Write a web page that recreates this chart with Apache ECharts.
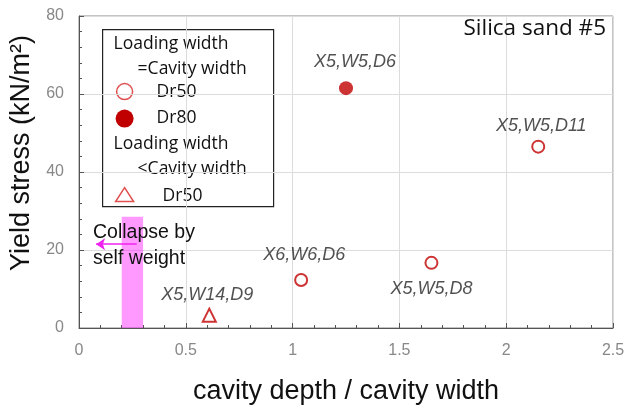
<!DOCTYPE html>
<html><head><meta charset="utf-8">
<script src="https://cdn.jsdelivr.net/npm/echarts@6/dist/echarts.min.js"></script>
<style>html,body{margin:0;padding:0;background:#fff}#c{width:627px;height:405px}</style>
</head><body><div id="c"></div>
<script>
// Data
const dr50Names = ['X6,W6,D6', 'X5,W5,D8', 'X5,W5,D11'];
const dr50X = [1.04, 1.65, 2.15];
const dr50Y = [12.3, 16.7, 46.5];
const dr80Names = ['X5,W5,D6'];
const dr80X = [1.25];
const dr80Y = [61.5];
const triNames = ['X5,W14,D9'];
const triX = [0.61];
const triY = [3.3];
const collapseBandX = [0.2, 0.3];
const collapseBandTop = 28.5;
const collapseArrowX = [0.27, 0.08];
const collapseArrowY = 21.5;
const xTicks = [0, 0.5, 1, 1.5, 2, 2.5];
const yTicks = [0, 20, 40, 60, 80];

const red = '#c00000';
const labelFont = {fontFamily: 'Liberation Sans', fontStyle: 'italic', fontSize: 18, color: '#262626'};
const pairs = (xs, ys, names) => xs.map((x, i) => ({value: [x, ys[i]], name: names[i]}));
const labelPos = {
  'X6,W6,D6': ['top', 9, [3, 0]],
  'X5,W5,D8': ['bottom', 10, [0, 0]],
  'X5,W5,D11': ['top', 5, [3, 0]],
  'X5,W5,D6': ['top', 10, [9, 0]],
  'X5,W14,D9': ['top', 4, [-2, 0]]
};
const withLabels = arr => arr.map(d => Object.assign(d, {label: Object.assign({
  show: true, position: labelPos[d.name][0], distance: labelPos[d.name][1], offset: labelPos[d.name][2], formatter: '{b}'}, labelFont)}));

const legendFont = {fontFamily: 'Open Sans', fontSize: 17.5, fill: '#111', verticalAlign: 'middle'};
const lt = (x, y, text) => ({type: 'text', x: x, y: y, style: Object.assign({text: text}, legendFont)});

const chart = echarts.init(document.getElementById('c'), null, {renderer: 'canvas'});
chart.setOption({
  animation: false,
  grid: {left: 79, right: 14, top: 16, bottom: 77, show: true, borderColor: '#888', borderWidth: 1,
    containLabel: false, outerBoundsMode: 'none'},
  xAxis: {
    type: 'value', min: xTicks[0], max: xTicks[xTicks.length - 1], interval: 0.5,
    name: 'cavity depth / cavity width', nameLocation: 'middle', nameGap: 50,
    nameTextStyle: {fontFamily: 'Liberation Sans', fontSize: 27, color: '#111'},
    axisLine: {lineStyle: {color: '#555'}},
    axisTick: {inside: true, length: 5, lineStyle: {color: '#555'}},
    minorTick: {show: true, splitNumber: 5, length: 3, lineStyle: {color: '#555'}},
    axisLabel: {fontFamily: 'Liberation Sans', fontSize: 16, color: '#888', margin: 15,
      formatter: v => String(v)},
    splitLine: {show: true, lineStyle: {color: '#dcdcdc'}}
  },
  yAxis: {
    type: 'value', min: yTicks[0], max: yTicks[yTicks.length - 1], interval: 20,
    name: 'Yield stress (kN/m²)', nameLocation: 'middle', nameGap: 44,
    nameTextStyle: {fontFamily: 'Liberation Sans', fontSize: 27, color: '#111', padding: [0, 0, 0, 38]},
    axisLine: {lineStyle: {color: '#555'}},
    axisTick: {inside: true, length: 5, lineStyle: {color: '#555'}},
    minorTick: {show: true, splitNumber: 5, length: 3, lineStyle: {color: '#555'}},
    axisLabel: {fontFamily: 'Liberation Sans', fontSize: 16, color: '#888', margin: 15},
    splitLine: {show: true, lineStyle: {color: '#dcdcdc'}}
  },
  series: [
    {
      type: 'scatter', name: 'band', data: [], silent: true,
      markArea: {silent: true, itemStyle: {color: 'rgba(255,0,255,0.4)'},
        data: [[{coord: [collapseBandX[0], 0]}, {coord: [collapseBandX[1], collapseBandTop]}]]},
      markLine: {silent: true, symbol: ['none', 'arrow'], symbolSize: 9,
        lineStyle: {color: '#ee22ee', width: 1.5, type: 'solid'}, label: {show: false},
        data: [[{coord: [collapseArrowX[0], collapseArrowY]}, {coord: [collapseArrowX[1], collapseArrowY]}]]},
      z: 1
    },
    {
      type: 'scatter', name: 'Dr50', symbol: 'circle', symbolSize: 12,
      itemStyle: {color: '#fff', borderColor: red, borderWidth: 2},
      data: withLabels(pairs(dr50X, dr50Y, dr50Names)), z: 5
    },
    {
      type: 'scatter', name: 'Dr80', symbol: 'circle', symbolSize: 14,
      itemStyle: {color: red, borderColor: red, borderWidth: 0},
      data: withLabels(pairs(dr80X, dr80Y, dr80Names)), z: 5
    },
    {
      type: 'scatter', name: 'Dr50 tri', symbol: 'triangle', symbolSize: 13,
      itemStyle: {color: '#fff', borderColor: red, borderWidth: 2},
      data: withLabels(pairs(triX, triY, triNames)), z: 5
    }
  ],
  graphic: [
    {type: 'text', right: 21, top: 17, z: 10, style: {text: 'Silica sand #5', fontFamily: 'Open Sans', fontSize: 22.5, fill: '#111'}},
    {type: 'text', left: 93, top: 220, z: 10, style: {text: 'Collapse by\nself weight', fontFamily: 'Liberation Sans', fontSize: 19.5, lineHeight: 26, fill: '#111'}},
    {type: 'group', left: 102, top: 29, z: 10, children: [
      {type: 'rect', shape: {x: 0, y: 0, width: 171, height: 177}, style: {fill: '#fff', stroke: '#222', lineWidth: 1.2}},
      lt(11, 14, 'Loading width'),
      lt(35, 39, '=Cavity width'),
      {type: 'circle', shape: {cx: 22, cy: 62, r: 8}, style: {fill: '#fff', stroke: '#e05050', lineWidth: 1.5}},
      lt(54, 62, 'Dr50'),
      {type: 'circle', shape: {cx: 22, cy: 89, r: 9}, style: {fill: red}},
      lt(54, 88, 'Dr80'),
      lt(11, 114, 'Loading width'),
      lt(35, 139, '<Cavity width'),
      {type: 'polygon', shape: {points: [[22, 158], [13, 172], [31, 172]]}, style: {fill: '#fff', stroke: '#e05050', lineWidth: 1.5}},
      lt(60, 166, 'Dr50')
    ]}
  ]
});
</script></body></html>
